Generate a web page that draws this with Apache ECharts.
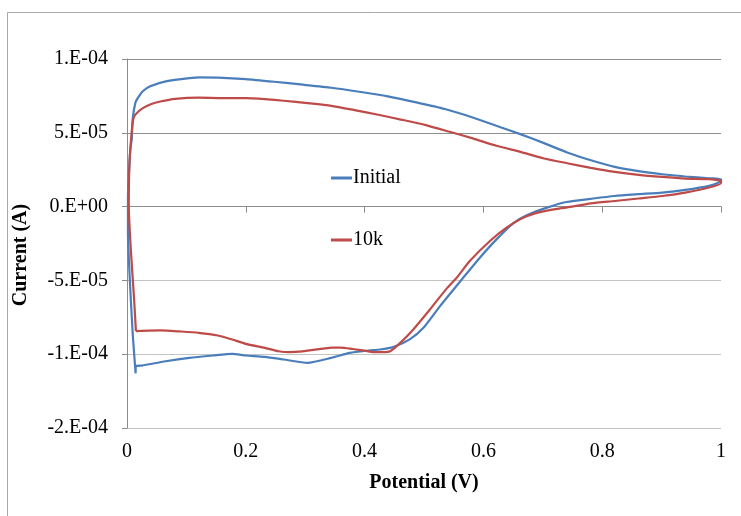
<!DOCTYPE html>
<html>
<head>
<meta charset="utf-8">
<script src="https://cdn.jsdelivr.net/npm/echarts@6/dist/echarts.min.js"></script>
<style>
  html, body { margin: 0; padding: 0; background: #fff; }
  #chart { width: 741px; height: 516px; }
</style>
</head>
<body>
<div id="chart"></div>
<script>
// potential (V) and current (A), in the order the sweep was drawn
const initialV = [0.0145, 0.0095, 0.005, 0.0016, 0.0016, 0.0056, 0.008, 0.0095, 0.0143, 0.019, 0.026, 0.039, 0.067, 0.105, 0.123, 0.153, 0.2, 0.248, 0.296, 0.344, 0.391, 0.439, 0.487, 0.535, 0.582, 0.63, 0.662, 0.702, 0.741, 0.781, 0.821, 0.861, 0.901, 0.94, 0.98, 1.0,
  1.0, 0.996, 0.98, 0.94, 0.901, 0.861, 0.821, 0.785, 0.74, 0.707, 0.673, 0.65, 0.622, 0.594, 0.566, 0.527, 0.499, 0.476, 0.448, 0.426, 0.407, 0.375, 0.344, 0.304, 0.264, 0.232, 0.2, 0.177, 0.145, 0.105, 0.065, 0.025, 0.015, 0.0145];
const initialI = [-11.3e-5, -8.55e-5, -5.16e-5, -1.76e-5, 0.5e-5, 3.89e-5, 4.57e-5, 5.93e-5, 7.06e-5, 7.4e-5, 7.8e-5, 8.15e-5, 8.5e-5, 8.7e-5, 8.75e-5, 8.74e-5, 8.64e-5, 8.46e-5, 8.26e-5, 8.05e-5, 7.78e-5, 7.47e-5, 7.06e-5, 6.61e-5, 6.04e-5, 5.36e-5, 4.91e-5, 4.3e-5, 3.67e-5, 3.14e-5, 2.69e-5, 2.4e-5, 2.19e-5, 2.04e-5, 1.92e-5, 1.86e-5,
  1.74e-5, 1.63e-5, 1.4e-5, 1.13e-5, 0.95e-5, 0.84e-5, 0.72e-5, 0.55e-5, 0.31e-5, -0.07e-5, -0.59e-5, -1.13e-5, -2.22e-5, -3.46e-5, -4.82e-5, -6.74e-5, -8.21e-5, -9.0e-5, -9.52e-5, -9.68e-5, -9.75e-5, -9.91e-5, -10.25e-5, -10.59e-5, -10.36e-5, -10.18e-5, -10.09e-5, -9.98e-5, -10.09e-5, -10.25e-5, -10.48e-5, -10.77e-5, -10.81e-5, -11.3e-5];

const tenkV = [0.015, 0.012, 0.0064, 0.003, 0.004, 0.0078, 0.0111, 0.015, 0.026, 0.041, 0.056, 0.081, 0.121, 0.161, 0.2, 0.232, 0.264, 0.304, 0.344, 0.383, 0.423, 0.463, 0.503, 0.543, 0.582, 0.622, 0.662, 0.702, 0.741, 0.781, 0.821, 0.861, 0.901, 0.94, 0.98, 1.0,
  1.0, 0.98, 0.94, 0.901, 0.861, 0.821, 0.781, 0.741, 0.729, 0.695, 0.667, 0.639, 0.611, 0.577, 0.555, 0.538, 0.51, 0.482, 0.46, 0.443, 0.43, 0.415, 0.4, 0.38, 0.36, 0.345, 0.33, 0.31, 0.29, 0.274, 0.255, 0.232, 0.2, 0.177, 0.153, 0.121, 0.089, 0.057, 0.025, 0.015];
const tenkI = [-8.44e-5, -6.29e-5, -2.9e-5, 0.05e-5, 2.76e-5, 5.02e-5, 6.0e-5, 6.27e-5, 6.65e-5, 6.95e-5, 7.12e-5, 7.3e-5, 7.38e-5, 7.35e-5, 7.35e-5, 7.28e-5, 7.17e-5, 7.01e-5, 6.83e-5, 6.54e-5, 6.22e-5, 5.88e-5, 5.52e-5, 5.07e-5, 4.62e-5, 4.12e-5, 3.71e-5, 3.26e-5, 2.94e-5, 2.62e-5, 2.35e-5, 2.15e-5, 2.01e-5, 1.9e-5, 1.86e-5, 1.74e-5,
  1.58e-5, 1.29e-5, 0.95e-5, 0.72e-5, 0.55e-5, 0.38e-5, 0.22e-5, -0.05e-5, -0.12e-5, -0.37e-5, -0.75e-5, -1.43e-5, -2.33e-5, -3.69e-5, -4.82e-5, -5.56e-5, -6.97e-5, -8.32e-5, -9.23e-5, -9.8e-5, -9.86e-5, -9.86e-5, -9.76e-5, -9.65e-5, -9.55e-5, -9.55e-5, -9.62e-5, -9.72e-5, -9.83e-5, -9.86e-5, -9.8e-5, -9.57e-5, -9.3e-5, -9.0e-5, -8.73e-5, -8.55e-5, -8.46e-5, -8.39e-5, -8.42e-5, -8.44e-5];

const seriesNames = ['Initial', '10k'];
// labels as the original spreadsheet printed them (0.E+00 format)
const yTickLabels = ['-2.E-04', '-1.E-04', '-5.E-05', '0.E+00', '5.E-05', '1.E-04'];
const yMin = -1.5e-4, yMax = 1e-4, yStep = 5e-5;

const pairs = (xs, ys) => xs.map((x, i) => [x, ys[i]]);

const chart = echarts.init(document.getElementById('chart'));
const font = '"Liberation Serif", "DejaVu Serif", serif';

chart.setOption({
  animation: false,
  backgroundColor: '#fff',
  textStyle: { fontFamily: font },
  graphic: [{
    type: 'rect',
    shape: { x: 7.5, y: 12.5, width: 760, height: 540 },
    style: { fill: 'none', stroke: '#a8a8a8', lineWidth: 1 },
    silent: true
  }],
  grid: { left: 127, right: 20, top: 59, bottom: 88 },
  legend: {
    orient: 'vertical',
    left: 326,
    top: 163,
    itemGap: 42,
    itemWidth: 21,
    itemHeight: 3,
    icon: 'rect',
    textStyle: { fontFamily: font, fontSize: 20, color: '#000', lineHeight: 20, padding: [0, 0, 0, -4] },
    data: seriesNames
  },
  xAxis: {
    type: 'value',
    min: 0, max: 1, interval: 0.2,
    name: 'Potential (V)',
    nameLocation: 'middle',
    nameGap: 45,
    nameTextStyle: { fontFamily: font, fontSize: 20, fontWeight: 'bold', color: '#000' },
    axisLine: { show: true, lineStyle: { color: '#8c8c8c', width: 1 } },
    axisTick: { show: true, inside: false, length: 6, lineStyle: { color: '#8c8c8c' } },
    axisLabel: { fontFamily: font, fontSize: 20, color: '#000', margin: 14,
      formatter: v => String(+v.toFixed(1)) },
    splitLine: { show: false }
  },
  yAxis: {
    type: 'value',
    min: yMin, max: yMax, interval: yStep,
    name: 'Current (A)',
    nameLocation: 'middle',
    nameGap: 96,
    nameRotate: 90,
    nameTextStyle: { fontFamily: font, fontSize: 20, fontWeight: 'bold', color: '#000', padding: [0, 23, 0, 0] },
    axisLine: { show: true, lineStyle: { color: '#8c8c8c', width: 1 } },
    axisTick: { show: true, inside: false, length: 5, lineStyle: { color: '#8c8c8c' } },
    axisLabel: { fontFamily: font, fontSize: 20, color: '#000', margin: 19,
      formatter: v => yTickLabels[Math.round((v - yMin) / yStep)] },
    splitLine: { show: true, lineStyle: { color: ['#c4c4c4', '#c4c4c4', '#c4c4c4', '#a8a8a8', '#8f8f8f', '#8f8f8f'], width: 1 } }
  },
  series: [
    {
      name: seriesNames[0], type: 'line', showSymbol: false, symbol: 'none', smooth: 0.2,
      data: pairs(initialV, initialI),
      lineStyle: { color: '#4a7ebb', width: 2.2 }, itemStyle: { color: '#4a7ebb' }, z: 2
    },
    {
      name: seriesNames[1], type: 'line', showSymbol: false, symbol: 'none', smooth: 0.2,
      data: pairs(tenkV, tenkI),
      lineStyle: { color: '#be4b48', width: 2.2 }, itemStyle: { color: '#be4b48' }, z: 3
    }
  ]
});
</script>
</body>
</html>
